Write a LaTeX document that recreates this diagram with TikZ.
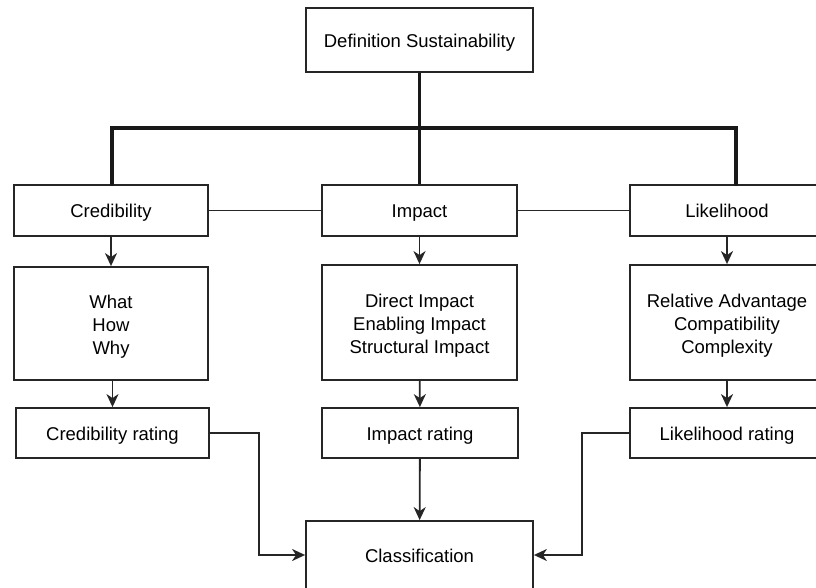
\documentclass[tikz,border=0pt]{standalone}
\usepackage{fontspec}
\setmainfont{Liberation Sans}
\usetikzlibrary{arrows.meta}
\begin{document}
\begin{tikzpicture}[x=1pt,y=-1pt,
  box/.style={draw=black!85, line width=1.8pt, fill=white, inner sep=0pt,
    font=\fontsize{18.5}{23}\selectfont, align=center},
  onebox/.style={box, text height=18pt, text depth=3pt},
  threebox/.style={box, text height=65pt, text depth=4pt},
  thin/.style={draw=black!85, line width=1.8pt},
  trunk/.style={draw=black!90, line width=3.2pt},
  arr/.style={thin, -{Stealth[length=13pt,width=12pt,inset=4pt]}}]
\useasboundingbox (0,0) rectangle (816,588);
% top level
\node[onebox, minimum width=227pt, minimum height=64pt] (def) at (419.5,40) {Definition Sustainability};
% first row
\node[onebox, minimum width=194pt, minimum height=51pt] (cred) at (111,210.5) {Credibility};
\node[onebox, minimum width=195pt, minimum height=51pt] (imp) at (419.5,210.5) {Impact};
\node[onebox, minimum width=194pt, minimum height=51pt] (lik) at (727,210.5) {Likelihood};
% second row
\node[threebox, minimum width=194pt, minimum height=113pt] (credd) at (111,323.5) {What\\How\\Why};
\node[threebox, minimum width=195pt, minimum height=115pt] (impd) at (419.5,322.5) {Direct Impact\\Enabling Impact\\Structural Impact};
\node[threebox, minimum width=194pt, minimum height=115pt] (likd) at (727,322.5) {Relative Advantage\\Compatibility\\Complexity};
% ratings
\node[onebox, minimum width=193pt, minimum height=50pt] (credr) at (112.5,433) {Credibility rating};
\node[onebox, minimum width=196pt, minimum height=50pt] (impr) at (420,433) {Impact rating};
\node[onebox, minimum width=194pt, minimum height=50pt] (likr) at (727,433) {Likelihood rating};
% result
\node[onebox, minimum width=227pt, minimum height=68pt] (cls) at (419.5,555) {Classification};
% tree from the definition
\coordinate (bar) at (419.5,128);
\draw[trunk] (def.south) -- (bar);
\draw[trunk, line cap=rect] (cred.north -| 112,0) |- (bar) -| (lik.north -| 736,0);
\draw[trunk] (bar) -- (imp.north);
% links between the first-row boxes
\draw[thin] (cred) -- (imp);
\draw[thin] (imp) -- (lik);
% downward arrows
\draw[arr] (cred) -- (credd);
\draw[arr] (imp) -- (impd);
\draw[arr] (lik) -- (likd);
\draw[arr] (credd.south -| credr.north) -- (credr.north);
\draw[arr] (impd) -- (impr);
\draw[arr] (likd) -- (likr);
% ratings into the classification
\draw[arr] (impr) -- (cls);
\draw[arr] (credr.east) -- ++(49,0) |- (cls.west);
\draw[arr] (likr.west) -- ++(-47,0) |- (cls.east);
\end{tikzpicture}
\end{document}
